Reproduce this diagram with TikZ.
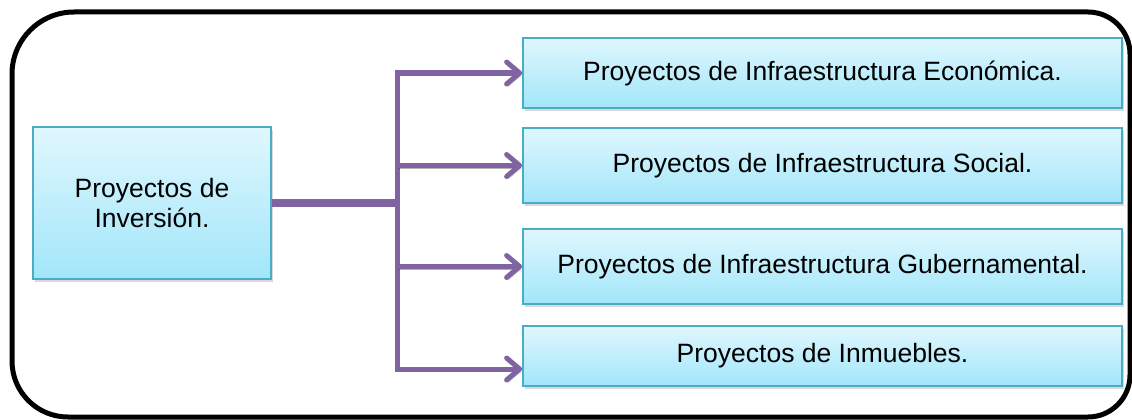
\documentclass[tikz,border=0pt]{standalone}
\usepackage{fontspec}
\setmainfont{Liberation Sans}
\usetikzlibrary{arrows.meta,shadows}

\definecolor{morado}{RGB}{128,100,162}
\definecolor{borde}{RGB}{75,172,198}
\definecolor{celesteA}{RGB}{223,247,254}
\definecolor{celesteB}{RGB}{162,230,250}

\begin{document}
\begin{tikzpicture}[x=1pt, y=-1pt,
    caja/.style={draw=borde, line width=1.8pt, top color=celesteA, bottom color=celesteB,
      inner sep=0pt, align=center, font=\fontsize{26.5}{30}\selectfont,
      drop shadow={opacity=0.3, shadow xshift=2pt, shadow yshift=-3pt}},
    sombra/.style={preaction={draw=black, draw opacity=0.3, transform canvas={shift={(1.5pt,-2.5pt)}}}},
    ramal/.style={draw=morado, line width=5pt, sombra, -{Straight Barb[length=13pt,width=22pt,round]}},
    tronco/.style={draw=morado, line width=8pt, sombra}]
    \useasboundingbox (0,0) rectangle (1132,420);

    \draw[line width=5pt] (12,200) -- (12,74) .. controls (12,39.8) and (39.8,12) .. (74,12)
      -- (1088,12) .. controls (1111.2,12) and (1130,30.8) .. (1130,54)
      -- (1130,375) .. controls (1130,398.2) and (1111.2,417) .. (1088,417)
      -- (68,417) .. controls (37.1,417) and (12,392.1) .. (12,361) -- cycle;

    \node[caja, minimum width=238pt, minimum height=152pt] (inv) at (152,203) {Proyectos de\\Inversión.};

    \node[caja, minimum width=599pt, minimum height=70pt] (eco) at (822.5,73) {Proyectos de Infraestructura Económica.};
    \node[caja, minimum width=599pt, minimum height=75pt] (soc) at (822.5,165.5) {Proyectos de Infraestructura Social.};
    \node[caja, minimum width=599pt, minimum height=75pt] (gub) at (822.5,266.5) {Proyectos de Infraestructura Gubernamental.};
    \node[caja, minimum width=599pt, minimum height=60pt] (inm) at (822.5,356) {Proyectos de Inmuebles.};

    \coordinate (tr) at (397,203);
    \coordinate (fin) at ([yshift=-13pt]inm.west);

    \draw[tronco] (inv.east) -- (tr);
    \draw[ramal] (tr) |- (eco.west);
    \draw[ramal] (tr) |- (fin);
    \draw[ramal] (tr |- soc.west) -- (soc.west);
    \draw[ramal] (tr |- gub.west) -- (gub.west);
  \end{tikzpicture}
\end{document}
